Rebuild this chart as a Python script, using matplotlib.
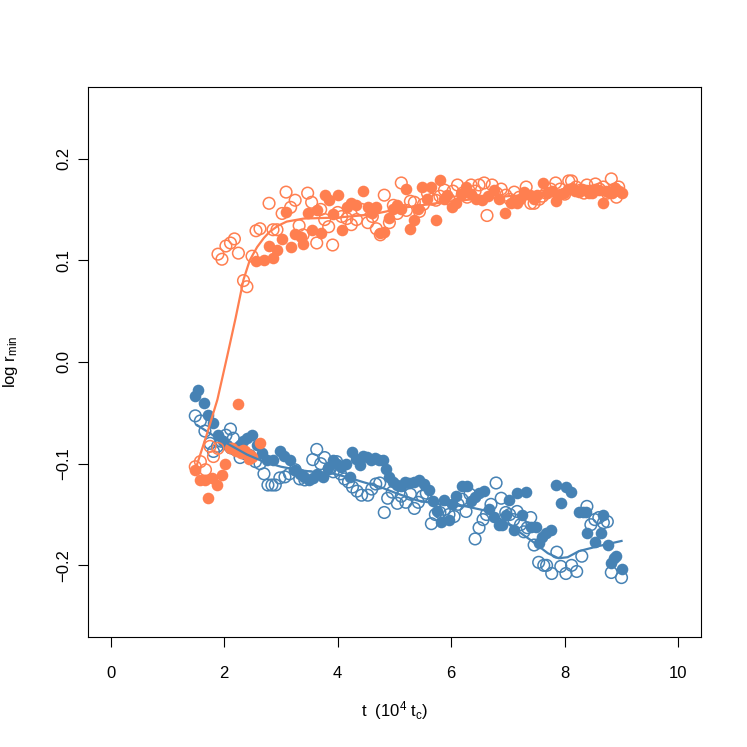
import matplotlib
matplotlib.use("Agg")
import matplotlib.pyplot as plt

plt.rcParams['font.family'] = ['Liberation Sans', 'DejaVu Sans']
plt.rcParams['mathtext.default'] = 'regular'

# orange, filled circles
of_x = [1.49, 1.58, 1.67, 1.72, 1.79, 1.88, 1.96, 2.02, 2.11, 2.14, 2.20, 2.25, 2.30, 2.33, 2.37, 2.43,
        2.46, 2.49, 2.63,
        2.56, 2.70, 2.79, 2.86, 2.93, 3.02, 3.09, 3.17, 3.25, 3.35, 3.39, 3.47, 3.54, 3.63, 3.70, 3.77,
        3.84, 3.91, 4.00, 4.07, 4.16, 4.24, 4.33, 4.44, 4.53, 4.61, 4.68, 4.75, 4.82, 4.91, 4.98, 5.05,
        5.12, 5.21, 5.28, 5.35, 5.42, 5.49, 5.57, 5.65, 5.73, 5.81, 5.87, 5.93, 6.02, 6.08, 6.17, 6.26,
        6.35, 6.44, 6.55, 6.65, 6.75, 6.84, 6.95, 7.05, 7.16, 7.22, 7.28, 7.39, 7.45, 7.51, 7.61, 7.69,
        7.77, 7.84, 7.91, 7.98, 8.05, 8.12, 8.18, 8.25, 8.31, 8.37, 8.43, 8.48, 8.54, 8.60, 8.68, 8.73,
        8.77, 8.83, 8.89, 8.95, 9.00]
of_y = [-0.106, -0.116, -0.116, -0.134, -0.114, -0.121, -0.111, -0.100, -0.085, -0.085, -0.088, -0.041,
        -0.090, -0.087, -0.088, -0.095, -0.091, -0.093, -0.080,
        0.099, 0.100, 0.114, 0.102, 0.110, 0.121, 0.147, 0.113, 0.126, 0.123, 0.116, 0.146, 0.130, 0.149,
        0.127, 0.164, 0.159, 0.145, 0.164, 0.130, 0.152, 0.156, 0.154, 0.168, 0.152, 0.146, 0.152, 0.127,
        0.128, 0.142, 0.150, 0.154, 0.150, 0.170, 0.131, 0.140, 0.150, 0.172, 0.160, 0.172, 0.140, 0.179,
        0.160, 0.164, 0.152, 0.156, 0.165, 0.172, 0.165, 0.160, 0.159, 0.163, 0.169, 0.160, 0.146, 0.156,
        0.156, 0.160, 0.167, 0.164, 0.160, 0.164, 0.176, 0.166, 0.168, 0.158, 0.165, 0.166, 0.170, 0.171,
        0.168, 0.167, 0.170, 0.169, 0.166, 0.166, 0.170, 0.169, 0.156, 0.168, 0.167, 0.166, 0.171, 0.168,
        0.166]

# orange, open circles
oo_x = [1.49, 1.58, 1.67, 1.75, 1.81, 1.89,
        1.89, 1.96, 2.03, 2.11, 2.18, 2.25, 2.34, 2.40, 2.49, 2.56, 2.63, 2.79, 2.86, 2.93, 3.02, 3.09,
        3.17, 3.25, 3.32, 3.39, 3.47, 3.54, 3.63, 3.70, 3.77, 3.84, 3.91, 4.00, 4.07, 4.16, 4.24, 4.33,
        4.42, 4.53, 4.61, 4.68, 4.75, 4.82, 4.91, 4.98, 5.05, 5.12, 5.21, 5.28, 5.35, 5.44, 5.51, 5.58,
        5.66, 5.73, 5.80, 5.88, 5.96, 6.03, 6.11, 6.20, 6.28, 6.35, 6.42, 6.49, 6.58, 6.63, 6.72, 6.80,
        6.88, 6.96, 7.03, 7.11, 7.20, 7.32, 7.40, 7.46, 7.55, 7.61, 7.67, 7.75, 7.84, 7.92, 8.00, 8.07,
        8.12, 8.20, 8.28, 8.34, 8.39, 8.46, 8.54, 8.61, 8.68, 8.75, 8.82, 8.88, 8.91, 8.95]
oo_y = [-0.103, -0.098, -0.106, -0.083, -0.093, -0.085,
        0.106, 0.101, 0.114, 0.117, 0.121, 0.107, 0.080, 0.074, 0.104, 0.129, 0.131, 0.156, 0.130, 0.130,
        0.146, 0.167, 0.152, 0.159, 0.134, 0.125, 0.166, 0.157, 0.117, 0.150, 0.140, 0.133, 0.115, 0.147,
        0.143, 0.141, 0.135, 0.140, 0.150, 0.137, 0.143, 0.131, 0.125, 0.164, 0.137, 0.154, 0.146, 0.176,
        0.149, 0.158, 0.157, 0.148, 0.155, 0.166, 0.160, 0.159, 0.163, 0.169, 0.160, 0.168, 0.174, 0.166,
        0.162, 0.174, 0.168, 0.174, 0.176, 0.144, 0.174, 0.166, 0.170, 0.164, 0.160, 0.167, 0.162, 0.172,
        0.156, 0.156, 0.160, 0.163, 0.166, 0.170, 0.176, 0.170, 0.165, 0.178, 0.178, 0.172, 0.169, 0.166,
        0.174, 0.168, 0.175, 0.170, 0.172, 0.166, 0.180, 0.170, 0.162, 0.172]

# blue, filled circles
bf_x = [1.49, 1.54, 1.65, 1.72, 1.81, 1.89, 1.98, 2.05, 2.11, 2.20, 2.27, 2.33, 2.41, 2.49, 2.58, 2.66,
        2.75, 2.86, 2.98, 3.06, 3.16, 3.25, 3.33, 3.41, 3.49, 3.56, 3.64, 3.74, 3.82, 3.91, 3.98, 4.06,
        4.14, 4.21, 4.26, 4.33, 4.39, 4.45, 4.51, 4.58, 4.65, 4.72, 4.79, 4.85, 4.91, 4.98, 5.05, 5.12,
        5.19, 5.26, 5.35, 5.44, 5.52, 5.61, 5.67, 5.75, 5.82, 5.88, 5.96, 6.02, 6.08, 6.19, 6.28, 6.35,
        6.42, 6.49, 6.58, 6.67, 6.75, 6.84, 6.90, 6.96, 7.02, 7.11, 7.16, 7.25, 7.32, 7.40, 7.49, 7.54,
        7.60, 7.67, 7.75, 7.84, 7.93, 8.02, 8.11, 8.25, 8.32, 8.37, 8.39, 8.54, 8.63, 8.68, 8.77, 8.82,
        8.86, 8.91, 9.00]
bf_y = [-0.033, -0.028, -0.040, -0.052, -0.060, -0.072, -0.078, -0.082, -0.085, -0.085, -0.082, -0.078,
        -0.075, -0.072, -0.082, -0.090, -0.096, -0.096, -0.088, -0.092, -0.096, -0.106, -0.110, -0.113,
        -0.116, -0.114, -0.110, -0.113, -0.104, -0.096, -0.100, -0.103, -0.100, -0.113, -0.089, -0.095,
        -0.101, -0.092, -0.093, -0.096, -0.094, -0.096, -0.096, -0.105, -0.113, -0.118, -0.121, -0.122,
        -0.118, -0.119, -0.118, -0.116, -0.120, -0.126, -0.137, -0.147, -0.157, -0.136, -0.155, -0.140,
        -0.132, -0.122, -0.122, -0.137, -0.133, -0.129, -0.127, -0.145, -0.152, -0.160, -0.160, -0.150,
        -0.136, -0.165, -0.129, -0.150, -0.128, -0.162, -0.162, -0.178, -0.172, -0.168, -0.165, -0.121,
        -0.139, -0.123, -0.128, -0.148, -0.148, -0.148, -0.168, -0.177, -0.168, -0.150, -0.180, -0.198,
        -0.193, -0.191, -0.204]

# blue, open circles
bo_x = [1.49, 1.58, 1.66, 1.75, 1.81, 1.88, 1.95, 2.03, 2.11, 2.16, 2.19, 2.28, 2.36, 2.45, 2.55, 2.63,
        2.70, 2.77, 2.84, 2.90, 2.98, 3.07, 3.15, 3.25, 3.33, 3.42, 3.51, 3.56, 3.63, 3.70, 3.77, 3.85,
        3.92, 3.98, 4.05, 4.12, 4.19, 4.26, 4.34, 4.42, 4.53, 4.60, 4.67, 4.74, 4.82, 4.88, 4.96, 5.05,
        5.12, 5.20, 5.28, 5.35, 5.42, 5.49, 5.56, 5.65, 5.72, 5.80, 5.88, 5.96, 6.05, 6.12, 6.19, 6.26,
        6.33, 6.42, 6.49, 6.56, 6.62, 6.70, 6.79, 6.88, 6.96, 7.03, 7.10, 7.16, 7.22, 7.28, 7.34, 7.40,
        7.46, 7.54, 7.63, 7.68, 7.77, 7.86, 7.93, 8.02, 8.12, 8.21, 8.30, 8.39, 8.46, 8.53, 8.60, 8.68,
        8.75, 8.82, 9.00]
bo_y = [-0.053, -0.058, -0.068, -0.080, -0.088, -0.083, -0.078, -0.072, -0.066, -0.075, -0.086, -0.094,
        -0.090, -0.092, -0.098, -0.100, -0.110, -0.121, -0.121, -0.121, -0.114, -0.113, -0.110, -0.106,
        -0.115, -0.116, -0.113, -0.096, -0.086, -0.100, -0.094, -0.105, -0.108, -0.098, -0.110, -0.115,
        -0.118, -0.123, -0.127, -0.131, -0.131, -0.125, -0.120, -0.119, -0.148, -0.134, -0.128, -0.139,
        -0.132, -0.138, -0.130, -0.144, -0.138, -0.132, -0.129, -0.159, -0.150, -0.148, -0.145, -0.150,
        -0.152, -0.140, -0.135, -0.147, -0.130, -0.174, -0.163, -0.155, -0.150, -0.140, -0.119, -0.134,
        -0.148, -0.150, -0.155, -0.147, -0.160, -0.167, -0.163, -0.153, -0.180, -0.197, -0.200, -0.200,
        -0.208, -0.187, -0.201, -0.208, -0.200, -0.206, -0.191, -0.142, -0.160, -0.155, -0.153, -0.158,
        -0.157, -0.207, -0.212]

# smoothed curves
ofit_x = [1.52, 1.70, 1.88, 2.05, 2.20, 2.34, 2.45, 2.58, 2.70, 2.80, 2.95, 3.10, 3.40, 4.00, 4.60,
          5.20, 6.00, 7.00, 8.00, 9.00]
ofit_y = [-0.101, -0.070, -0.037, 0.005, 0.043, 0.081, 0.100, 0.113, 0.122, 0.128, 0.134, 0.138, 0.141,
          0.142, 0.145, 0.152, 0.158, 0.163, 0.166, 0.168]
bfit_x = [1.52, 1.80, 2.11, 2.40, 2.69, 3.00, 3.28, 3.56, 3.86, 4.15, 4.44, 4.75, 5.03, 5.39, 5.80,
          6.26, 6.67, 7.02, 7.42, 7.70, 7.89, 8.05, 8.25, 8.60, 9.00]
bfit_y = [-0.062, -0.072, -0.082, -0.091, -0.098, -0.103, -0.106, -0.108, -0.109, -0.113, -0.118, -0.123,
          -0.129, -0.136, -0.140, -0.142, -0.147, -0.160, -0.176, -0.188, -0.193, -0.192, -0.186, -0.181,
          -0.176]

orange = '#FF7F50'
blue = '#4682B4'

fig = plt.figure(figsize=(7.47, 7.47), dpi=100)
ax = fig.add_axes([0.1178, 0.1473, 0.8206, 0.7363])

ms = 70
ax.scatter(bo_x, bo_y, s=ms, facecolors='none', edgecolors=blue, linewidths=1.1)
ax.scatter(bf_x, bf_y, s=ms, color=blue, linewidths=0)
ax.scatter(oo_x, oo_y, s=ms, facecolors='none', edgecolors=orange, linewidths=1.1)
ax.scatter(of_x, of_y, s=ms, color=orange, linewidths=0)
ax.plot(bfit_x, bfit_y, color=blue, lw=1.6)
ax.plot(ofit_x, ofit_y, color=orange, lw=1.6)

ax.set_xlim(-0.4, 10.4)
ax.set_ylim(-0.2704, 0.2704)
ax.set_xticks([0, 2, 4, 6, 8, 10])
ax.set_yticks([-0.2, -0.1, 0.0, 0.1, 0.2])
ax.set_yticklabels(['\u22120.2', '\u22120.1', '0.0', '0.1', '0.2'], rotation=90, va='center')
ax.tick_params(length=7, width=0.8, labelsize=12)
ax.tick_params(axis='x', pad=14)
ax.tick_params(axis='y', pad=5)
for sp in ax.spines.values():
    sp.set_linewidth(0.8)

ax.set_xlabel(r't  (10$^4$ t$_c$)', fontsize=12, va='center')
ax.set_ylabel(r'log r$_{min}$', fontsize=12, va='center')
ax.xaxis.set_label_coords(0.5, -0.133)
ax.yaxis.set_label_coords(-0.127, 0.5)

fig.savefig('out.png', dpi=100)
